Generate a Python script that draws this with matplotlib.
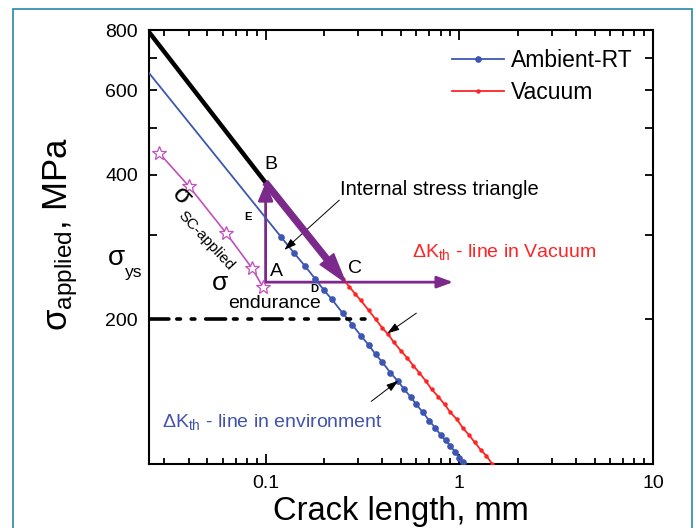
import matplotlib
matplotlib.use("Agg")
import matplotlib.pyplot as plt
from matplotlib.patches import Rectangle
from matplotlib.ticker import FixedLocator, FixedFormatter, LogLocator, NullLocator, FuncFormatter

plt.rcParams['font.family'] = ['Liberation Sans', 'DejaVu Sans']
plt.rcParams['mathtext.fontset'] = 'custom'
plt.rcParams['mathtext.rm'] = 'Liberation Sans'
plt.rcParams['mathtext.it'] = 'Liberation Sans:italic'
plt.rcParams['mathtext.bf'] = 'Liberation Sans:bold'

# ---- data: crack length a (mm) and applied stress (MPa) ----
# Ambient-RT threshold line, extrapolated part (no symbols)
ambient_ext_a = [0.025, 0.12]
ambient_ext_s = [651, 297]
# Ambient-RT threshold points
ambient_a = [0.12, 0.14, 0.16, 0.18, 0.20, 0.22, 0.25, 0.28, 0.31, 0.34, 0.37,
             0.40, 0.44, 0.48, 0.52, 0.56, 0.60, 0.65, 0.70, 0.75, 0.80, 0.85,
             0.90, 0.95, 1.00, 1.05, 1.10]
ambient_s = [297, 275, 258, 243, 230, 220, 206, 195, 185, 177, 169,
             163, 155, 149, 143, 138, 133, 128, 123, 119, 115, 112,
             109, 106, 103, 101, 98]
# Vacuum threshold points
vacuum_a = [0.10, 0.11, 0.12, 0.13, 0.14, 0.15, 0.165, 0.18, 0.195, 0.21, 0.23,
            0.25, 0.27, 0.29, 0.31, 0.34, 0.37, 0.40, 0.43, 0.46, 0.50, 0.54,
            0.58, 0.62, 0.67, 0.72, 0.78, 0.84, 0.90, 0.97, 1.04, 1.12, 1.20,
            1.29, 1.38, 1.48]
vacuum_s = [385, 367, 351, 338, 325, 314, 300, 287, 276, 266, 254,
            243, 234, 226, 219, 209, 200, 192, 186, 179, 172, 166,
            160, 155, 149, 143, 138, 133, 128, 124, 119, 115, 111,
            107, 104, 100]
# long-crack line ending at point B
long_a = [0.025, 0.1]
long_s = [792, 385]
# stress-corrosion applied stress
sc_a = [0.0283, 0.0403, 0.0623, 0.0848, 0.0966]
sc_s = [443, 378, 303, 256, 234]
# endurance-limit level
endur_a = [0.025, 0.345]
endur_s = [200, 200]
# internal stress triangle corners
tri_a = {'A': 0.1, 'B': 0.1, 'C': 0.258}
tri_s = {'A': 239, 'B': 385, 'C': 239}
horiz_end_a = 0.93

purple = '#7b2a8c'
blue = '#3d56b2'
red = '#ff2424'
magenta = '#c24fbb'

fig = plt.figure(figsize=(6.96, 5.28), dpi=100)
ax = fig.add_axes([149/696, 1-464/528, (653-149)/696, (464-30)/528])
ax.set_xscale('log')
ax.set_yscale('log')
ax.set_xlim(0.025, 10)
ax.set_ylim(100, 800)

# curves
ax.plot(ambient_ext_a, ambient_ext_s, color=blue, lw=1.3, zorder=3)
amb, = ax.plot(ambient_a, ambient_s, color=blue, lw=1.3, marker='o', ms=3.8,
               mec=blue, mfc=blue, zorder=3)
vac, = ax.plot(vacuum_a, vacuum_s, color=red, lw=1.3, marker='o', ms=2.2,
               mec=red, mfc=red, zorder=3)
ax.plot(long_a, long_s, color='black', lw=3.2, solid_capstyle='butt', zorder=4)
ax.plot(sc_a, sc_s, color=magenta, lw=1.2, marker='*', ms=10, mfc='white',
        mec=magenta, mew=0.9, zorder=3)
ax.plot(endur_a, endur_s, color='black', lw=2.6,
        dashes=(5.5, 2.2, 1.0, 3.0, 1.0, 3.0), dash_capstyle='round', zorder=3)

# triangle
A = (tri_a['A'], tri_s['A'])
B = (tri_a['B'], tri_s['B'])
C = (tri_a['C'], tri_s['C'])
ax.annotate('', xy=B, xytext=A,
            arrowprops=dict(arrowstyle='-|>,head_length=0.6,head_width=0.25',
                            mutation_scale=18, color=purple, lw=2.0,
                            shrinkA=0, shrinkB=0), zorder=2)
ax.annotate('', xy=(horiz_end_a, tri_s['A']), xytext=A,
            arrowprops=dict(arrowstyle='-|>,head_length=0.6,head_width=0.22',
                            mutation_scale=16, color=purple, lw=2.0,
                            shrinkA=0, shrinkB=0), zorder=2)
ax.annotate('', xy=C, xytext=B,
            arrowprops=dict(arrowstyle='simple,head_length=0.85,head_width=0.5,tail_width=0.17',
                            mutation_scale=25, color=purple,
                            shrinkA=0, shrinkB=0), zorder=5)

# pointer arrows
thin = dict(arrowstyle='-|>,head_length=0.6,head_width=0.2', mutation_scale=12,
            color='black', lw=0.7, shrinkA=0, shrinkB=0)
ax.annotate('', xy=(0.125, 279), xytext=(0.24, 354), arrowprops=thin)
ax.annotate('', xy=(0.425, 187), xytext=(0.60, 206), arrowprops=thin)
ax.annotate('', xy=(0.484, 149), xytext=(0.351, 135), arrowprops=thin)

# labels
ax.text(0.1067, 419, 'B', fontsize=14, ha='center', va='center')
ax.text(0.1133, 251, 'A', fontsize=14, ha='center', va='center')
ax.text(0.290, 255, 'C', fontsize=14, ha='center', va='center')
ax.text(0.0812, 326, 'E', fontsize=8, fontweight='bold', ha='center', va='center')
ax.text(0.178, 231, 'D', fontsize=8, fontweight='bold', ha='center', va='center')
ax.text(0.2427, 373, 'Internal stress triangle', fontsize=14.5, ha='left', va='center')
ax.text(0.571, 276, r'ΔK$_{\mathrm{th}}$ - line in Vacuum', fontsize=14,
        color=red, ha='left', va='center')
ax.text(0.0292, 122, r'ΔK$_{\mathrm{th}}$ - line in environment', fontsize=14,
        color='#4252ae', ha='left', va='center')
ax.text(0.01535, 268, 'σ', fontsize=20, ha='left', va='center')
ax.text(0.0188, 250, 'ys', fontsize=12.5, ha='left', va='center')
ax.text(0.053, 238, 'σ', fontsize=19, ha='left', va='center')
ax.text(0.064, 216, 'endurance', fontsize=14, ha='left', va='center')
ax.text(0.037, 361, 'σ', fontsize=19, ha='center', va='center', rotation=-47,
        rotation_mode='anchor')
ax.text(0.0493, 292, 'SC-applied', fontsize=11, ha='center', va='center',
        rotation=-47, rotation_mode='anchor')

# axes styling
for sp in ax.spines.values():
    sp.set_linewidth(1.5)
ax.yaxis.set_major_locator(FixedLocator([100, 200, 300, 400, 500, 600, 700, 800]))
ax.yaxis.set_major_formatter(FixedFormatter(['', '200', '', '400', '', '600', '', '800']))
ax.yaxis.set_minor_locator(NullLocator())
ax.xaxis.set_major_locator(LogLocator(base=10))
ax.xaxis.set_minor_locator(LogLocator(base=10, subs=range(2, 10)))
ax.xaxis.set_major_formatter(FuncFormatter(lambda v, p: f'{v:g}'))
ax.tick_params(which='both', direction='in', top=True, right=True, width=1.3,
               labelsize=14, pad=8)
ax.tick_params(axis='x', which='major', length=7)
ax.tick_params(axis='x', which='minor', length=4)
ax.tick_params(axis='y', which='major', length=6)

ax.legend([amb, vac], ['Ambient-RT', 'Vacuum'], loc='upper right',
          bbox_to_anchor=(0.978, 0.977), borderaxespad=0, frameon=False,
          fontsize=16.5, handlelength=2.3, handletextpad=0.3, labelspacing=0.4)

fig.text(0.0876, 0.557, r'σ$_{\mathrm{applied}}$, MPa', fontsize=25, rotation=90,
         ha='center', va='center')
fig.text(401/696, 8/528, 'Crack length, mm', fontsize=23.5, ha='center', va='baseline')

fig.add_artist(Rectangle((13/696, -0.05), (692-13)/696, 1.05 - 9/528,
                         transform=fig.transFigure, fill=False,
                         ec='#3a8fb0', lw=1.3))

fig.savefig('out.png', dpi=100)
